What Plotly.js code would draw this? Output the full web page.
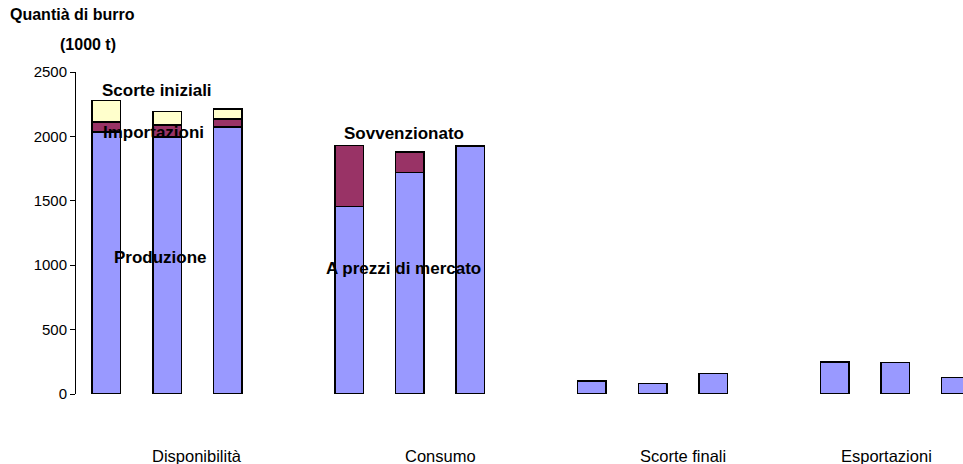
<!DOCTYPE html>
<html>
<head>
<meta charset="utf-8">
<script src="https://cdn.plot.ly/plotly-3.0.1.min.js"></script>
<style>
html,body{margin:0;padding:0;overflow:hidden;background:#fff;}
#chart{width:1060px;height:464px;}
</style>
</head>
<body>
<div id="chart"></div>
<script>
// Categories (groups of three bars each)
const categories = ["Disponibilità", "Consumo", "Scorte finali", "Esportazioni"];

// Disponibilità components (1000 t)
const dispProduzione = [2036, 1995, 2072];
const dispImportazioni = [76, 93, 62];
const dispScorteIniziali = [166, 104, 78];

// Consumo components (1000 t)
const consMercato = [1457, 1721, 1925];
const consSovvenzionato = [471, 156, null];

// Scorte finali and Esportazioni (1000 t)
const scorteFinali = [101, 80, 161];
const esportazioni = [248, 246, 130];

// Y axis ticks
const yTicks = [0, 500, 1000, 1500, 2000, 2500];

// positions: each group occupies 4 slots (3 bars + gap)
function pos(g, n) { const a = []; for (let i = 0; i < n; i++) a.push(g * 4 + i); return a; }

const allX = [].concat(pos(0,3), pos(1,3), pos(2,3), pos(3,3));
const baseY = [].concat(dispProduzione, consMercato, scorteFinali, esportazioni);
const midX = [].concat(pos(0,3), pos(1,3));
const midY = [].concat(dispImportazioni, consSovvenzionato);
const topX = pos(0,3);
const topY = dispScorteIniziali;

const line = {color: '#000000', width: 1.5};
const W = 0.47;

const traces = [
  {type: 'bar', x: allX, y: baseY, width: W, marker: {color: '#9999FF', line: line}, hoverinfo: 'y'},
  {type: 'bar', x: midX, y: midY, width: W, marker: {color: '#993366', line: line}, hoverinfo: 'y'},
  {type: 'bar', x: topX, y: topY, width: W, marker: {color: '#FFFFCC', line: line}, hoverinfo: 'y'}
];

const F = 'Liberation Sans, Arial, sans-serif';
const labelPos = [1.5, 5.5, 9.5, 12.85];

const annotations = [
  {text: '<b>Quantià di burro</b>', xref: 'paper', yref: 'paper', x: -0.004, y: 1.18, xanchor: 'center', yanchor: 'middle', showarrow: false, font: {family: F, size: 16, color: '#000'}},
  {text: '<b>(1000 t)</b>', xref: 'paper', yref: 'paper', x: 0.012, y: 1.085, xanchor: 'center', yanchor: 'middle', showarrow: false, font: {family: F, size: 16, color: '#000'}},
  {text: '<b>Scorte iniziali</b>', x: 0.84, y: 2360, showarrow: false, font: {family: F, size: 17, color: '#000'}},
  {text: '<b>Importazioni</b>', x: 0.78, y: 2034, showarrow: false, font: {family: F, size: 17, color: '#000'}},
  {text: '<b>Produzione</b>', x: 0.9, y: 1056, showarrow: false, font: {family: F, size: 17, color: '#000'}},
  {text: '<b>Sovvenzionato</b>', x: 4.9, y: 2026, showarrow: false, font: {family: F, size: 17, color: '#000'}},
  {text: '<b>A prezzi di mercato</b>', x: 4.9, y: 978, showarrow: false, font: {family: F, size: 17, color: '#000'}}
];
categories.forEach((c, i) => {
  annotations.push({text: c, x: labelPos[i], xref: 'x', yref: 'paper', y: 0, yanchor: 'middle', yshift: -62, showarrow: false, font: {family: F, size: 16.5, color: '#000'}});
});

const layout = {
  width: 1060, height: 464,
  margin: {l: 76, r: 13, t: 72, b: 70},
  paper_bgcolor: '#ffffff', plot_bgcolor: '#ffffff',
  barmode: 'stack',
  showlegend: false,
  font: {family: F, size: 15, color: '#000'},
  xaxis: {range: [-0.5, 15.5], showticklabels: false, ticks: '', showgrid: false, zeroline: false, showline: false},
  yaxis: {range: [0, 2500], tickvals: yTicks, ticktext: yTicks.map(String), ticks: 'outside', ticklen: 5, tickcolor: '#000', tickwidth: 1, showline: true, linecolor: '#000', linewidth: 1, showgrid: false, zeroline: false, tickfont: {family: F, size: 15, color: '#000'}},
  annotations: annotations
};

Plotly.newPlot('chart', traces, layout, {displayModeBar: false, staticPlot: true});
</script>
</body>
</html>
